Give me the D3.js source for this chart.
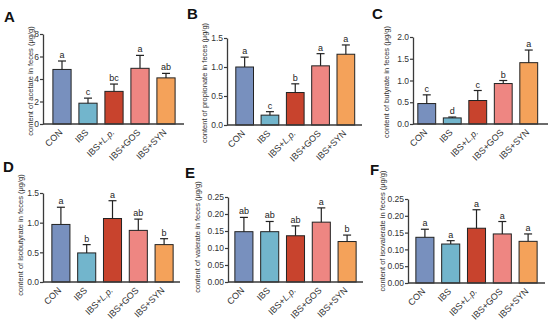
<!DOCTYPE html>
<html>
<head>
<meta charset="utf-8">
<script src="https://cdn.jsdelivr.net/npm/d3@7"></script>
<style>
body{margin:0;background:#fff;}
svg{display:block;font-family:"Liberation Sans",Arial,sans-serif;}
</style>
</head>
<body>
<svg id="chart" width="550" height="324"></svg>
<script>
// ---- data ----
const categories = ["CON", "IBS", "IBS+L.p.", "IBS+GOS", "IBS+SYN"];
const colors = ["#7890be", "#72b5cc", "#c8432d", "#ee8682", "#f4a25a"];
const panelLetters = ["A", "B", "C", "D", "E", "F"];
const titles = ["acetate", "propionate", "butyrate", "isobutyrate", "valerate", "isovalerate"];

const acetateMean = [4.85, 1.85, 2.9, 4.95, 4.1];
const acetateErr = [5.6, 2.3, 3.55, 6.1, 4.5];
const acetateSig = ["a", "c", "bc", "a", "ab"];
const acetateTicks = [0, 2, 4, 6, 8];

const propionateMean = [1.0, 0.17, 0.56, 1.02, 1.22];
const propionateErr = [1.17, 0.23, 0.71, 1.23, 1.38];
const propionateSig = ["a", "c", "b", "a", "a"];
const propionateTicks = [0, 0.5, 1.0, 1.5];

const butyrateMean = [0.47, 0.14, 0.54, 0.93, 1.41];
const butyrateErr = [0.67, 0.16, 0.77, 1.0, 1.7];
const butyrateSig = ["c", "d", "c", "b", "a"];
const butyrateTicks = [0, 0.5, 1.0, 1.5, 2.0];

const isobutyrateMean = [0.97, 0.49, 1.07, 0.87, 0.63];
const isobutyrateErr = [1.26, 0.63, 1.37, 1.06, 0.73];
const isobutyrateSig = ["a", "b", "a", "ab", "b"];
const isobutyrateTicks = [0, 0.5, 1.0, 1.5];

const valerateMean = [0.148, 0.148, 0.136, 0.176, 0.119];
const valerateErr = [0.19, 0.178, 0.165, 0.218, 0.138];
const valerateSig = ["ab", "ab", "ab", "a", "b"];
const valerateTicks = [0, 0.05, 0.10, 0.15, 0.20, 0.25];

const isovalerateMean = [0.136, 0.116, 0.163, 0.146, 0.124];
const isovalerateErr = [0.16, 0.126, 0.218, 0.183, 0.146];
const isovalerateSig = ["a", "a", "a", "a", "a"];
const isovalerateTicks = [0, 0.05, 0.10, 0.15, 0.20, 0.25];

const panels = [
  {mean: acetateMean, err: acetateErr, sig: acetateSig, ticks: acetateTicks, fmt: d3.format("d"),
   axisX: 43, y0: 124, yTop: 34, band: [49, 179], axisEnd: 184, letter: [4, 22], title: [30, 81]},
  {mean: propionateMean, err: propionateErr, sig: propionateSig, ticks: propionateTicks, fmt: d3.format(".1f"),
   axisX: 227, y0: 125, yTop: 38, band: [232, 358.5], axisEnd: 362, letter: [187, 19], title: [204, 83]},
  {mean: butyrateMean, err: butyrateErr, sig: butyrateSig, ticks: butyrateTicks, fmt: d3.format(".1f"),
   axisX: 413, y0: 124, yTop: 37, band: [414, 541.5], axisEnd: 548, letter: [372, 19], title: [386, 82]},
  {mean: isobutyrateMean, err: isobutyrateErr, sig: isobutyrateSig, ticks: isobutyrateTicks, fmt: d3.format(".1f"),
   axisX: 43, y0: 282, yTop: 193, band: [48, 177], axisEnd: 180, letter: [3, 172], title: [20, 235]},
  {mean: valerateMean, err: valerateErr, sig: valerateSig, ticks: valerateTicks, fmt: d3.format(".2f"),
   axisX: 228, y0: 282, yTop: 197, band: [231, 360], axisEnd: 363, letter: [185, 178], title: [197, 237]},
  {mean: isovalerateMean, err: isovalerateErr, sig: isovalerateSig, ticks: isovalerateTicks, fmt: d3.format(".2f"),
   axisX: 408, y0: 283, yTop: 199, band: [412, 541], axisEnd: 545, letter: [370, 175], title: [382, 231]}
];

const svg = d3.select("#chart");
const axisColor = "#3a3a3a";

panels.forEach((p, i) => {
  const g = svg.append("g");
  const yMax = p.ticks[p.ticks.length - 1];
  const y = d3.scaleLinear().domain([0, yMax]).range([p.y0, p.yTop]);
  const x = d3.scaleBand().domain(categories).range(p.band).paddingInner(0.3).paddingOuter(0.15);

  // y axis
  const yAxis = d3.axisLeft(y).tickValues(p.ticks).tickFormat(p.fmt).tickSize(3).tickSizeOuter(0);
  const ya = g.append("g").attr("transform", `translate(${p.axisX},0)`).call(yAxis);
  ya.select(".domain").attr("stroke", axisColor).attr("stroke-width", 1.3);
  ya.selectAll(".tick line").attr("stroke", axisColor).attr("stroke-width", 1.2);
  ya.selectAll(".tick text").attr("fill", "#333").attr("font-size", 8.5)
    .attr("font-family", "Liberation Sans, Arial, sans-serif").attr("x", -4);

  // bars
  g.selectAll("rect.bar").data(categories).join("rect")
    .attr("class", "bar")
    .attr("x", d => x(d))
    .attr("width", x.bandwidth())
    .attr("y", (d, j) => y(p.mean[j]))
    .attr("height", (d, j) => p.y0 - y(p.mean[j]))
    .attr("fill", (d, j) => colors[j])
    .attr("stroke", "#222").attr("stroke-width", 1);

  // error bars (upper only)
  const cap = 4;
  categories.forEach((c, j) => {
    const cx = x(c) + x.bandwidth() / 2;
    g.append("line").attr("x1", cx).attr("x2", cx)
      .attr("y1", y(p.mean[j])).attr("y2", y(p.err[j]))
      .attr("stroke", "#222").attr("stroke-width", 1.2);
    g.append("line").attr("x1", cx - cap).attr("x2", cx + cap)
      .attr("y1", y(p.err[j])).attr("y2", y(p.err[j]))
      .attr("stroke", "#222").attr("stroke-width", 1.2);
    g.append("text").attr("x", cx).attr("y", y(p.err[j]) - 3)
      .attr("text-anchor", "middle").attr("font-size", 9).attr("fill", "#222")
      .text(p.sig[j]);
  });

  // x axis line
  g.append("line").attr("x1", p.axisX).attr("x2", p.axisEnd)
    .attr("y1", p.y0).attr("y2", p.y0)
    .attr("stroke", axisColor).attr("stroke-width", 1.3);

  // category labels
  categories.forEach((c, j) => {
    const cx = x(c) + x.bandwidth() / 2;
    const t = g.append("text")
      .attr("transform", `translate(${cx + 1},${p.y0 + 9}) rotate(-45)`)
      .attr("text-anchor", "end").attr("font-size", 9).attr("fill", "#333");
    if (c === "IBS+L.p.") {
      t.append("tspan").text("IBS+");
      t.append("tspan").attr("font-style", "italic").text("L.p.");
    } else {
      t.text(c);
    }
  });

  // y title
  g.append("text")
    .attr("transform", `translate(${p.title[0]},${p.title[1]}) rotate(-90)`)
    .attr("text-anchor", "middle").attr("dominant-baseline", "central")
    .attr("font-size", 7.5).attr("fill", "#333")
    .text(`content of ${titles[i]} in feces (μg/g)`);

  // panel letter
  g.append("text").attr("x", p.letter[0]).attr("y", p.letter[1])
    .attr("font-size", 15).attr("font-weight", "bold").attr("fill", "#111")
    .text(panelLetters[i]);
});
</script>
</body>
</html>
